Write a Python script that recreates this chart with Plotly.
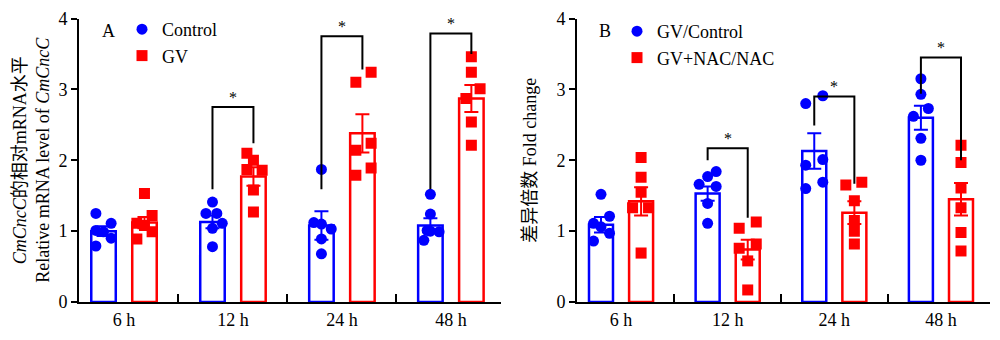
import plotly.graph_objects as go

# ---------------- data ----------------
categories = ["6 h", "12 h", "24 h", "48 h"]

# Panel A
a_ctrl_mean = [1.00, 1.13, 1.08, 1.08]
a_ctrl_sem = [0.07, 0.09, 0.20, 0.10]
a_gv_mean = [1.12, 1.77, 2.38, 2.87]
a_gv_sem = [0.08, 0.13, 0.27, 0.19]
a_ctrl_pts = [
    [1.25, 1.01, 0.99, 1.11, 0.90, 0.79],
    [1.41, 1.25, 1.25, 1.11, 1.04, 0.78],
    [1.87, 1.12, 1.10, 1.03, 0.89, 0.68],
    [1.52, 1.24, 1.01, 0.99, 1.00, 0.87],
]
a_gv_pts = [
    [1.53, 1.22, 1.11, 1.08, 0.99, 0.89],
    [2.10, 2.00, 1.87, 1.86, 1.58, 1.27],
    [3.24, 3.10, 2.24, 2.14, 1.89, 1.79],
    [3.46, 3.24, 3.01, 2.87, 2.54, 2.21],
]
# brackets: category index, top, left leg end, right leg end
a_brackets_cat = [1, 2, 3]
a_brackets_top = [2.75, 3.75, 3.79]
a_brackets_left = [1.59, 1.59, 1.59]
a_brackets_right = [2.24, 3.28, 3.50]

# Panel B
b_ctrl_mean = [1.09, 1.53, 2.13, 2.60]
b_ctrl_sem = [0.11, 0.10, 0.25, 0.17]
b_nac_mean = [1.42, 0.74, 1.26, 1.45]
b_nac_sem = [0.20, 0.14, 0.16, 0.23]
b_ctrl_pts = [
    [1.52, 1.21, 1.11, 1.06, 0.97, 0.86],
    [1.84, 1.77, 1.66, 1.63, 1.39, 1.11],
    [2.91, 2.80, 2.01, 1.93, 1.69, 1.60],
    [3.15, 2.93, 2.73, 2.62, 2.31, 2.00],
]
b_nac_pts = [
    [2.04, 1.76, 1.55, 1.33, 1.33, 0.69],
    [1.13, 1.04, 0.82, 0.76, 0.58, 0.17],
    [1.69, 1.65, 1.43, 1.15, 1.00, 0.82],
    [2.21, 1.97, 1.61, 1.33, 0.98, 0.72],
]
b_brackets_cat = [1, 2, 3]
b_brackets_top = [2.17, 2.90, 3.45]
b_brackets_left = [2.00, 2.49, 2.94]
b_brackets_right = [1.19, 1.67, 2.00]

# ---------------- style (horizontal jitter of dots, category units) ----------------
a_ctrl_jit = [[-0.07, -0.07, 0, 0.07, 0.07, -0.07], [0, -0.06, 0.04, 0.09, 0, 0],
              [0, -0.07, 0, 0.09, 0, 0], [0, 0, -0.03, 0.08, 0, -0.06]]
a_gv_jit = [[0, 0.07, -0.07, 0, 0.07, -0.07], [-0.06, 0, -0.06, 0.08, 0, 0],
            [0.08, -0.06, 0.08, -0.06, 0.08, -0.06], [0, 0, 0.08, -0.05, 0, 0]]
b_ctrl_jit = [[0, 0.08, -0.07, 0, 0.08, -0.07], [0.08, 0, -0.08, 0.08, 0, 0],
              [0.08, -0.08, 0.08, -0.08, 0.08, -0.08], [0, 0, 0.07, -0.07, 0, 0]]
b_nac_jit = [[0, 0, 0, -0.08, 0.07, 0], [0.08, -0.08, 0.08, -0.08, 0, 0],
             [0.07, -0.08, 0, 0, 0, 0], [0, 0, 0, 0, 0, 0]]

BLUE = "#0000FF"
RED = "#FF0000"
FONT = "Liberation Serif, Times New Roman, Noto Sans CJK SC, serif"
OFF = 0.188
BW = 0.225

fig = go.Figure()


def add_panel(xa, ya, names, means, sems, pts, jits, colors, symbols, legend):
    for k in range(2):
        xs_bar = [i + (2 * k - 1) * OFF for i in range(len(categories))]
        fig.add_trace(go.Bar(
            x=xs_bar, y=means[k], width=BW, xaxis=xa, yaxis=ya,
            marker=dict(color="white", line=dict(color=colors[k], width=2.5)),
            showlegend=False, hoverinfo="skip"))
    for k in range(2):
        px, py = [], []
        for i in range(len(categories)):
            for v, j in zip(pts[k][i], jits[k][i]):
                px.append(i + (2 * k - 1) * OFF + j)
                py.append(v)
        fig.add_trace(go.Scatter(
            x=px, y=py, mode="markers", name=names[k], xaxis=xa, yaxis=ya,
            marker=dict(color=colors[k], symbol=symbols[k], size=11, line=dict(width=0)),
            legend=legend))
    for k in range(2):
        xs_bar = [i + (2 * k - 1) * OFF for i in range(len(categories))]
        fig.add_trace(go.Scatter(
            x=xs_bar, y=means[k], mode="markers", xaxis=xa, yaxis=ya,
            marker=dict(opacity=0, size=1),
            error_y=dict(type="data", array=sems[k], color=colors[k], thickness=2, width=7),
            showlegend=False, hoverinfo="skip"))


add_panel("x", "y", ["Control", "GV"], [a_ctrl_mean, a_gv_mean], [a_ctrl_sem, a_gv_sem],
          [a_ctrl_pts, a_gv_pts], [a_ctrl_jit, a_gv_jit], [BLUE, RED], ["circle", "square"], "legend")
add_panel("x2", "y2", ["GV/Control", "GV+NAC/NAC"], [b_ctrl_mean, b_nac_mean], [b_ctrl_sem, b_nac_sem],
          [b_ctrl_pts, b_nac_pts], [b_ctrl_jit, b_nac_jit], [BLUE, RED], ["circle", "square"], "legend2")

shapes = []
annotations = []


def add_brackets(xr, yr, cats, tops, lefts, rights):
    for c, t, l, r in zip(cats, tops, lefts, rights):
        x0 = c - OFF
        x1 = c + OFF
        shapes.append(dict(type="path", xref=xr, yref=yr,
                           path=f"M {x0},{l} L {x0},{t} L {x1},{t} L {x1},{r}",
                           line=dict(color="black", width=2)))
        annotations.append(dict(x=c, y=t, xref=xr, yref=yr, text="*", showarrow=False,
                                xanchor="center", yanchor="bottom", yshift=-1,
                                font=dict(family=FONT, size=16, color="black")))


add_brackets("x", "y", a_brackets_cat, a_brackets_top, a_brackets_left, a_brackets_right)
add_brackets("x2", "y2", b_brackets_cat, b_brackets_top, b_brackets_left, b_brackets_right)

annotations.append(dict(x=0.108, y=1 - 31 / 340, xref="paper", yref="paper", text="A",
                        xanchor="center", yanchor="middle",
                        showarrow=False, font=dict(family=FONT, size=18, color="black")))
annotations.append(dict(x=0.605, y=1 - 31 / 340, xref="paper", yref="paper", text="B",
                        xanchor="center", yanchor="middle",
                        showarrow=False, font=dict(family=FONT, size=18, color="black")))

xcommon = dict(range=[-0.413, 3.46], tickmode="array", tickvals=[0, 1, 2, 3], ticktext=categories,
               ticks="", showline=True, linecolor="black", linewidth=2, showgrid=False,
               zeroline=False, automargin=False,
               tickfont=dict(family=FONT, size=18, color="black"),
               minor=dict(tickmode="array", tickvals=[0.5, 1.5, 2.5], ticks="inside",
                          ticklen=8, tickwidth=2, tickcolor="black", showgrid=False))
ycommon = dict(range=[0, 4], tickmode="array", tickvals=[0, 1, 2, 3, 4], ticks="outside",
               ticklen=6, tickwidth=2, tickcolor="black", showline=True, linecolor="black",
               linewidth=2, showgrid=False, zeroline=False, automargin=False,
               tickfont=dict(family=FONT, size=18, color="black"))

ydom = [1 - 302 / 340, 1 - 18.5 / 340]
fig.update_layout(
    width=1000, height=340, margin=dict(l=0, r=0, t=0, b=0, autoexpand=False),
    paper_bgcolor="white", plot_bgcolor="white",
    barmode="overlay",
    font=dict(family=FONT, size=18, color="black"),
    xaxis=dict(domain=[0.079, 0.501], anchor="y", **xcommon),
    yaxis=dict(domain=ydom, anchor="x",
               title=dict(text="<i>CmCncC</i>的相对mRNA水平<br>Relative mRNA level of <i>CmCncC</i>",
                          standoff=4, font=dict(family=FONT, size=18, color="black")),
               **ycommon),
    xaxis2=dict(domain=[0.577, 0.990], anchor="y2", **xcommon),
    yaxis2=dict(domain=ydom, anchor="x2",
                title=dict(text="差异倍数 Fold change", standoff=15,
                           font=dict(family=FONT, size=18, color="black")),
                **ycommon),
    legend=dict(x=0.122, y=1 - 11 / 340, xanchor="left", yanchor="top",
                bgcolor="rgba(0,0,0,0)", font=dict(family=FONT, size=18, color="black")),
    legend2=dict(x=0.617, y=1 - 13 / 340, xanchor="left", yanchor="top",
                 bgcolor="rgba(0,0,0,0)", font=dict(family=FONT, size=18, color="black")),
    shapes=shapes, annotations=annotations,
)

fig.write_html("out.html", post_script="document.body.style.margin='0px';")
